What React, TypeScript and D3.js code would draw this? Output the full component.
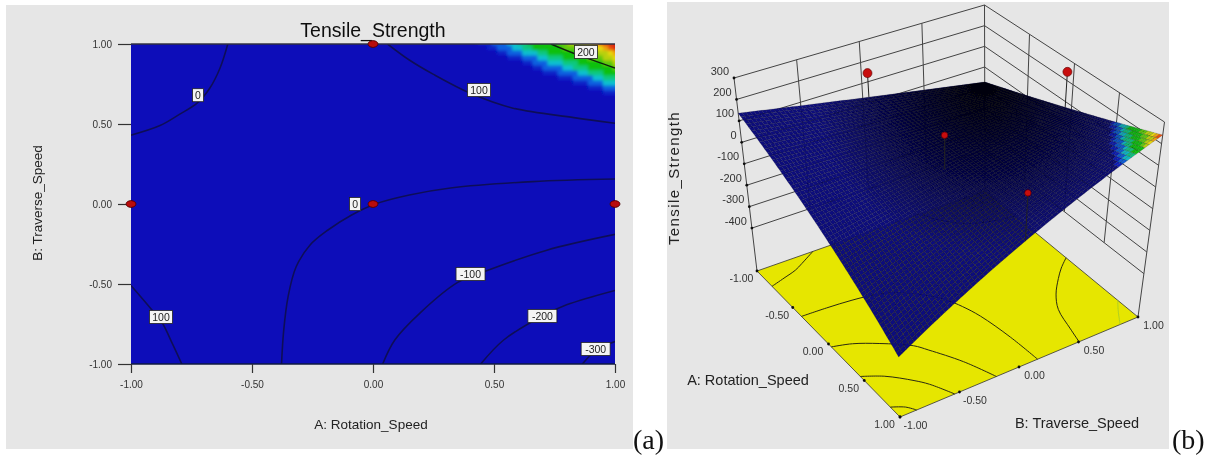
import React, { useEffect, useRef } from 'react';
import * as d3 from 'd3';

type Pt = [number, number];

// factor levels, shared by both panels
const factorTicks = [-1, -0.5, 0, 0.5, 1];
const strengthTicks = [300, 200, 100, 0, -100, -200, -300, -400];
const wallGrid = [-0.5, 0, 0.5];

// contour lines, as [A, B]
const contourZeroUpper: Pt[] = [[-1, 0.43], [-0.88, 0.49], [-0.8, 0.56], [-0.727, 0.63], [-0.674, 0.725], [-0.632, 0.85], [-0.6, 1]];
const contourHundredUpper: Pt[] = [[0.06, 1], [0.15, 0.9], [0.25, 0.81], [0.405, 0.69], [0.575, 0.6], [0.83, 0.54], [1, 0.505]];
const contourTwoHundred: Pt[] = [[0.735, 1], [0.85, 0.93], [1, 0.85]];
const contourZeroLower: Pt[] = [[1, 0.156], [0.66, 0.14], [0.32, 0.1], [0.15, 0.056], [0.01, 0], [-0.09, -0.07], [-0.186, -0.1625], [-0.26, -0.256], [-0.318, -0.394], [-0.351, -0.58], [-0.369, -0.79], [-0.378, -1]];
const contourMinus100: Pt[] = [[1, -0.19], [0.715, -0.29], [0.455, -0.425], [0.35, -0.49], [0.195, -0.68], [0.09, -0.85], [0.04, -1]];
const contourMinus200: Pt[] = [[1, -0.54], [0.8, -0.63], [0.7, -0.7], [0.54, -0.85], [0.445, -1]];
const contourMinus300: Pt[] = [[1, -0.86], [0.925, -0.91], [0.865, -1]];
const contourHundredLower: Pt[] = [[-1, -0.51], [-0.915, -0.66], [-0.87, -0.745], [-0.83, -0.87], [-0.79, -1]];

const darkContours = [contourZeroUpper, contourHundredUpper, contourZeroLower, contourMinus100, contourMinus200, contourMinus300, contourHundredLower];

const contourLabels = ['0', '100', '200', '0', '100', '-100', '-200', '-300'];
const contourLabelA = [-0.723, 0.438, 0.88, -0.074, -0.876, 0.403, 0.7, 0.92];
const contourLabelB = [0.68, 0.7125, 0.95, 0, -0.706, -0.4375, -0.7, -0.906];

// where the colours change in the top right corner, low to high
const fieldColors = ['#1020c8', '#0a60e0', '#10c0d0', '#10c880', '#10c010', '#60c810', '#b8d010', '#e8d810', '#f0a010', '#e85010', '#d82010'];
const fieldEdges: Pt[][] = [
  [[0.434, 1], [0.73, 0.806], [1, 0.67]],
  [[0.483, 1], [0.73, 0.8375], [1, 0.7]],
  [[0.545, 1], [0.73, 0.88], [1, 0.7375]],
  [[0.587, 1], [0.77, 0.8875], [1, 0.7625]],
  [[0.628, 1], [0.814, 0.9], [1, 0.794]],
  [[0.756, 1], [0.897, 0.9125], [1, 0.85]],
  [[0.806, 1], [0.92, 0.95], [1, 0.875]],
  [[0.872, 1], [0.95, 0.9625], [1, 0.9]],
  [[0.917, 1], [0.963, 0.975], [1, 0.925]],
  [[0.938, 1], [1, 0.95]],
  [[0.959, 1], [1, 0.975]],
];

// design points
const pointsA = [0, -1, 0, 1];
const pointsB = [1, 0, 0, 0];
// same points in the 3D view with the strength they sit at
const points3dA = [-0.07, -1, 0, 1];
const points3dB = [1, 0.05, 0, 0];
const points3dZ = [241, 141, 138, 146];
const points3dR = [4.5, 4.5, 3.2, 3.2];

// surface height at the corners
const surfaceCorners = { ll: 136, lr: -360, ur: 240, ul: -72 };

// view of the 3D box: floor and top corners in the page
const floorCorners = { ll: [757, 271] as Pt, lr: [900, 417] as Pt, ur: [1138, 317] as Pt, ul: [985, 191] as Pt };
const topCorners = { ll: [734, 78] as Pt, lr: [895, 192] as Pt, ur: [1164.5, 122] as Pt, ul: [984.5, 5] as Pt };

const SANS = '"Liberation Sans", Arial, sans-serif';
const BLUE = '#0a0ab9';

const xA = d3.scaleLinear().domain([-1, 1]).range([131, 615]);
const yA = d3.scaleLinear().domain([-1, 1]).range([364, 44]);
const unit = d3.scaleLinear().domain([-1, 1]).range([0, 1]);
const zT = d3.scaleLinear().domain([-600, 300]).range([0, 1]);
const tickText = (v: number) => d3.format('.2f')(v).replace('\u2212', '-');

function bilinear(c: { ll: number; lr: number; ur: number; ul: number }, a: number, b: number) {
  const u = unit(a), v = unit(b);
  return d3.interpolateNumber(d3.interpolateNumber(c.ll, c.lr)(u), d3.interpolateNumber(c.ul, c.ur)(u))(v);
}
const axisOf = (c: typeof floorCorners, i: 0 | 1) => ({ ll: c.ll[i], lr: c.lr[i], ur: c.ur[i], ul: c.ul[i] });

function project(a: number, b: number, z: number | null): Pt {
  const t = z === null ? 0 : zT(z);
  const fx = bilinear(axisOf(floorCorners, 0), a, b), fy = bilinear(axisOf(floorCorners, 1), a, b);
  const tx = bilinear(axisOf(topCorners, 0), a, b), ty = bilinear(axisOf(topCorners, 1), a, b);
  return [fx + (tx - fx) * t, fy + (ty - fy) * t];
}
const onSurface = (a: number, b: number) => project(a, b, bilinear(surfaceCorners, a, b));

const fieldPolys = fieldEdges.map((e) => [...e, [1, 1] as Pt]);
function fieldLevel(a: number, b: number) {
  let lvl = -1;
  const p0: Pt = [Math.min(a, 0.9999), Math.min(b, 0.9999)];
  fieldPolys.forEach((p, i) => { if (d3.polygonContains(p, p0)) lvl = i; });
  return lvl;
}

const smooth = d3.line<Pt>().curve(d3.curveCatmullRom.alpha(0.5));
const flat = (pts: Pt[]) => 'M' + pts.map((p) => p.join(',')).join('L') + 'Z';

const toPlot = (pts: Pt[]) => pts.map(([a, b]) => [xA(a), yA(b)] as Pt);
const toFloor = (pts: Pt[]) => pts.map(([a, b]) => project(a, b, null));

// cells run a little past the plot so the soft edge stays inside the clip
const colStep = 2 / 96;
const rowStep = 2 / 64;
const colsA = d3.range(0.2, 1.1, colStep);
const rowsA = d3.range(0.4, 1.1, rowStep);
const meshStep = 2 / 64;
const mesh = d3.range(-1, 1 - 1e-6, meshStep);

const surfaceEdge: Pt[] = [
  ...factorTicks.map((a) => onSurface(a, -1)),
  ...factorTicks.map((b) => onSurface(1, b)),
  ...factorTicks.slice().reverse().map((a) => onSurface(a, 1)),
  ...factorTicks.slice().reverse().map((b) => onSurface(-1, b)),
];

export default function App() {
  const leftAxis = useRef<SVGGElement>(null);
  const bottomAxis = useRef<SVGGElement>(null);

  useEffect(() => {
    d3.select(leftAxis.current!).call(d3.axisLeft(yA).tickValues(factorTicks).tickSize(13).tickPadding(6).tickFormat((d) => tickText(d as number)));
    d3.select(bottomAxis.current!).call(d3.axisBottom(xA).tickValues(factorTicks).tickSize(9).tickPadding(8).tickFormat((d) => tickText(d as number)));
    [leftAxis, bottomAxis].forEach((r) => {
      const g = d3.select(r.current!);
      g.attr('font-family', SANS).attr('font-size', 10);
      g.select('.domain').remove();
      g.selectAll('text').attr('fill', '#333');
      g.selectAll('line').attr('stroke', '#333').attr('stroke-width', 1.2);
    });
  }, []);

  return (
    <svg width={1217} height={457} style={{ position: 'absolute', left: 0, top: 0, display: 'block', background: '#fff' }}>
      <defs>
        <filter id="soft" filterUnits="userSpaceOnUse" x="0" y="0" width="1217" height="457"><feGaussianBlur stdDeviation="0.45" /></filter>
        <filter id="softField" filterUnits="userSpaceOnUse" x="400" y="20" width="260" height="120"><feGaussianBlur stdDeviation="1.8" /></filter>
        <clipPath id="plotClip"><rect x={131} y={44} width={484} height={320} /></clipPath>
        <radialGradient id="shade" gradientUnits="userSpaceOnUse" cx={983} cy={82} r={170}>
          <stop offset="0" stopColor="#000" stopOpacity={0.92} />
          <stop offset="0.5" stopColor="#000" stopOpacity={0.5} />
          <stop offset="1" stopColor="#000" stopOpacity={0} />
        </radialGradient>
      </defs>

      <g filter="url(#soft)">
        {/* panel (a): contour plot */}
        <rect x={6} y={5} width={627} height={444} fill="#e6e6e6" />
        <text x={373} y={37} textAnchor="middle" fontFamily={SANS} fontSize={19.5} fill="#111">Tensile_Strength</text>
        <rect x={xA(-1)} y={yA(1)} width={xA(1) - xA(-1)} height={yA(-1) - yA(1)} fill={BLUE} />
        <g clipPath="url(#plotClip)">
          <g filter="url(#softField)">
            {colsA.flatMap((a) => rowsA.map((b) => {
              const lvl = fieldLevel(a + colStep / 2, b + rowStep / 2);
              return lvl < 0 ? null : (
                <rect key={a + '_' + b} x={xA(a)} y={yA(b + rowStep)} width={xA(a + colStep) - xA(a) + 0.5} height={yA(b) - yA(b + rowStep) + 0.5} fill={fieldColors[lvl]} />
              );
            }))}
          </g>
          {darkContours.map((c, i) => (
            <path key={i} d={smooth(toPlot(c)) as string} fill="none" stroke="#0a0a58" strokeWidth={1.6} />
          ))}
          <path d={smooth(toPlot(contourTwoHundred)) as string} fill="none" stroke="#10200a" strokeWidth={1.4} />
        </g>
        <line x1={131} x2={615} y1={44} y2={44} stroke="#334" strokeWidth={1.4} />
        <line x1={131} x2={615} y1={364} y2={364} stroke="#111a40" strokeWidth={1.6} />
        <g ref={leftAxis} transform={`translate(${xA(-1)},0)`} />
        <g ref={bottomAxis} transform={`translate(0,${yA(-1)})`} />
        {pointsA.map((a, i) => (
          <ellipse key={i} cx={xA(a)} cy={yA(pointsB[i])} rx={5} ry={3.4} fill="#b80808" stroke="#4a0505" strokeWidth={0.8} />
        ))}
        {contourLabels.map((t, i) => {
          const w = t.length * 6 + 5;
          return (
            <g key={i} transform={`translate(${xA(contourLabelA[i])},${yA(contourLabelB[i])})`}>
              <rect x={-w / 2} y={-6.5} width={w} height={13} fill="#f4f4f4" stroke="#222" strokeWidth={0.8} />
              <text y={3.8} textAnchor="middle" fontFamily={SANS} fontSize={10.5} fill="#222">{t}</text>
            </g>
          );
        })}
        <text x={371} y={429} textAnchor="middle" fontFamily={SANS} fontSize={13.5} fill="#222">A: Rotation_Speed</text>
        <text transform="translate(42,203) rotate(-90)" textAnchor="middle" fontFamily={SANS} fontSize={13.5} fill="#222">B: Traverse_Speed</text>

        {/* panel (b): response surface */}
        <rect x={667} y={2} width={502} height={447} fill="#e6e6e6" />
        <g stroke="#444" strokeWidth={1} fill="none">
          {strengthTicks.map((z) => (
            <path key={z} d={d3.line()([project(-1, -1, z), project(-1, 1, z), project(1, 1, z)]) as string} />
          ))}
          {wallGrid.map((b) => (
            <path key={b} d={d3.line()([project(-1, b, 300), project(-1, b, -400)]) as string} />
          ))}
          {wallGrid.map((a) => (
            <path key={a} d={d3.line()([project(a, 1, 300), project(a, 1, -400)]) as string} />
          ))}
          <path d={d3.line()([project(-1, -1, 300), project(-1, -1, null)]) as string} />
          <path d={d3.line()([project(-1, 1, 300), project(-1, 1, null)]) as string} />
          <path d={d3.line()([project(1, 1, 300), project(1, 1, null)]) as string} />
        </g>
        <path d={flat([floorCorners.ll, floorCorners.lr, floorCorners.ur, floorCorners.ul])} fill="#e6e600" stroke="#333" strokeWidth={0.8} />
        {darkContours.map((c, i) => (
          <path key={i} d={smooth(toFloor(c)) as string} fill="none" stroke="#2a2a10" strokeWidth={1} />
        ))}
        <path d={smooth(toFloor(contourTwoHundred)) as string} fill="none" stroke="#b0d020" strokeWidth={1} />

        {mesh.flatMap((a) => mesh.map((b) => {
          const lvl = fieldLevel(a + meshStep / 2, b + meshStep / 2);
          return (
            <path
              key={a + '_' + b}
              d={flat([onSurface(a, b), onSurface(a + meshStep, b), onSurface(a + meshStep, b + meshStep), onSurface(a, b + meshStep)])}
              fill={lvl < 0 ? '#0b0b7c' : fieldColors[lvl]}
              stroke="#000"
              strokeOpacity={0.3}
              strokeWidth={0.5}
            />
          );
        }))}
        <path d={flat(surfaceEdge)} fill="url(#shade)" />

        {points3dA.map((a, i) => {
          const [x, y] = project(a, points3dB[i], points3dZ[i]);
          const [sx, sy] = onSurface(a, points3dB[i]);
          return (
            <g key={i}>
              <line x1={x} y1={y} x2={sx} y2={sy} stroke="#222" strokeWidth={1} />
              <circle cx={x} cy={y} r={points3dR[i]} fill="#c80a0a" stroke="#500" strokeWidth={0.6} />
            </g>
          );
        })}

        {strengthTicks.map((z) => {
          const [x, y] = project(-1, -1, z);
          return (
            <g key={z}>
              <circle cx={x} cy={y} r={1.4} fill="#111" />
              <text x={x - 5} y={y - 3.5} textAnchor="end" fontFamily={SANS} fontSize={11} fill="#333">{z}</text>
            </g>
          );
        })}
        {factorTicks.map((t) => {
          const [ax, ay] = project(t, -1, null);
          const [bx, by] = project(1, t, null);
          return (
            <g key={t} fontFamily={SANS} fontSize={10.5} fill="#333" textAnchor="middle">
              <circle cx={ax} cy={ay} r={1.4} fill="#111" />
              <circle cx={bx} cy={by} r={1.4} fill="#111" />
              <text x={ax - 15.5} y={ay + 11}>{tickText(t)}</text>
              <text x={bx + 15.5} y={by + 12}>{tickText(t)}</text>
            </g>
          );
        })}
        <text x={748} y={385} textAnchor="middle" fontFamily={SANS} fontSize={14.5} fill="#222">A: Rotation_Speed</text>
        <text x={1077} y={428} textAnchor="middle" fontFamily={SANS} fontSize={14.5} fill="#222">B: Traverse_Speed</text>
        <text transform="translate(679,178) rotate(-90)" textAnchor="middle" fontFamily={SANS} fontSize={15} letterSpacing={1.4} fill="#222">Tensile_Strength</text>
      </g>

      <text x={633} y={449} fontFamily='"Liberation Serif", serif' fontSize={28} fill="#111">(a)</text>
      <text x={1172} y={449} fontFamily='"Liberation Serif", serif' fontSize={28} fill="#111">(b)</text>
    </svg>
  );
}
